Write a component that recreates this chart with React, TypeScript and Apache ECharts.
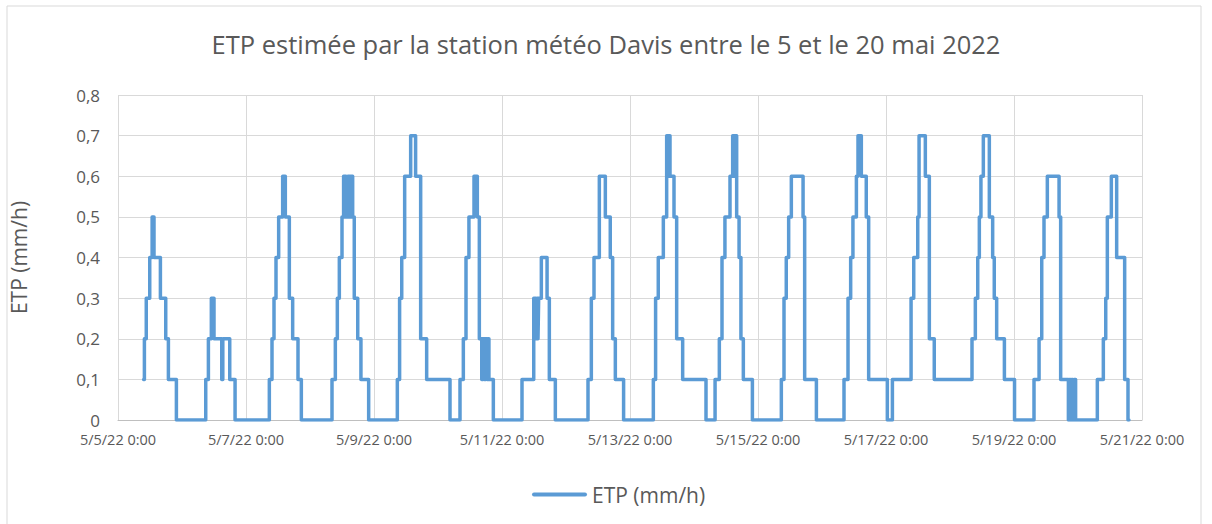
import React, { useEffect, useRef } from "react";
import * as echarts from "echarts";

// Change points per day: [hour of the day, ETP value in mm/h]; value holds until next point
const may05 = [[9.6,0.1],[9.9,0.2],[10.6,0.3],[11.9,0.4],[12.8,0.5],[13.5,0.4],[15.9,0.3],[17.9,0.2],[18.9,0.1],[21.9,0]];
const may06 = [[8.9,0.1],[9.9,0.2],[11.0,0.3],[12.0,0.2],[14.9,0.1],[15.3,0.2],[17.9,0.1],[19.9,0]];
const may07 = [[8.75,0.1],[9.75,0.2],[10.5,0.3],[11.25,0.4],[12.25,0.5],[13.75,0.6],[14.75,0.5],[16.25,0.3],[17.5,0.2],[19.5,0.1],[20.75,0]];
const may08 = [[8.25,0.1],[9.5,0.2],[10.25,0.3],[11,0.4],[12,0.5],[12.6,0.6],[13.5,0.5],[14.2,0.6],[14.8,0.5],[15.3,0.6],[16,0.5],[16.6,0.3],[17.9,0.2],[19.1,0.1],[22,0]];
const may09 = [[8.75,0.1],[9.6,0.3],[10.4,0.4],[11.5,0.6],[13.75,0.7],[15.6,0.6],[17.5,0.2],[19.75,0.1]];
const may10 = [[4.5,0],[8.25,0.1],[9.5,0.2],[10.5,0.4],[11.6,0.5],[13.5,0.6],[14.75,0.5],[15.5,0.2],[16.4,0.1],[16.9,0.2],[17.4,0.1],[17.9,0.2],[18.4,0.1],[18.7,0.2],[19.1,0.1],[20.75,0]];
const may11 = [[7.5,0.1],[11.9,0.3],[12.2,0.2],[12.5,0.3],[12.8,0.2],[13.2,0.3],[13.5,0.2],[13.75,0.3],[14.75,0.4],[16.9,0.3],[17.75,0.1],[20,0]];
const may12 = [[8.25,0.1],[9.5,0.3],[10.5,0.4],[12.5,0.6],[14.75,0.5],[16.6,0.4],[17.5,0.2],[18.5,0.1],[21.6,0]];
const may13 = [[8.75,0.1],[9.6,0.3],[10.6,0.4],[12.5,0.5],[13.75,0.7],[14.3,0.6],[14.5,0.7],[15,0.6],[16.5,0.5],[17.5,0.2],[19.75,0.1]];
const may14 = [[4.5,0],[7.9,0.1],[9.5,0.2],[10.5,0.4],[11.6,0.5],[13.5,0.6],[14.5,0.7],[15.1,0.6],[15.4,0.7],[16,0.5],[16.9,0.4],[17.6,0.2],[18.5,0.1],[21.9,0]];
const may15 = [[8.75,0.1],[9.75,0.3],[10.6,0.4],[11.5,0.5],[12.5,0.6],[16.9,0.5],[17.5,0.1],[21.9,0]];
const may16 = [[8.25,0.1],[9.75,0.3],[10.75,0.4],[11.6,0.5],[12.9,0.6],[13.5,0.7],[14.75,0.6],[16.6,0.5],[17.5,0.1]];
const may17 = [[0.5,0],[2.4,0.1],[9.4,0.3],[10.4,0.4],[11.9,0.5],[12.4,0.7],[14.75,0.6],[16.25,0.2],[18.1,0.1]];
const may18 = [[8.25,0.2],[9.5,0.3],[10.4,0.4],[11,0.5],[11.6,0.6],[12.5,0.7],[14.75,0.5],[16,0.4],[16.6,0.3],[17.5,0.2],[20.4,0.1]];
const may19 = [[0.2,0],[7.5,0.1],[9.4,0.2],[10.4,0.4],[11.25,0.5],[12.5,0.6],[16.9,0.5],[17.5,0.1],[20.4,0],[20.8,0.1],[21.2,0],[21.6,0.1],[22.0,0],[22.5,0.1],[23.1,0]];
const may20 = [[7.25,0.1],[9.5,0.2],[10.4,0.3],[11,0.5],[12.5,0.6],[14.5,0.4],[17.5,0.1],[18.75,0],[19.1,0]];

const days = [may05, may06, may07, may08, may09, may10, may11, may12, may13, may14, may15, may16, may17, may18, may19, may20];

const title = "ETP estimée par la station météo Davis entre le 5 et le 20 mai 2022";
const seriesName = "ETP (mm/h)";
const xMin = 0;
const xMax = 384; // hours from 5/5/22 0:00 to 5/21/22 0:00
const xStep = 48;

const FONT = "'Open Sans', sans-serif";
const TEXT = "#595959";
const GRID = "#d9d9d9";

export default function App() {
  const ref = useRef<HTMLDivElement>(null);
  useEffect(() => {
    if (!ref.current) return;
    const chart = echarts.init(ref.current, null, { renderer: "svg" });
    const data = days.flatMap((d, i) => d.map(([h, v]) => [i * 24 + h, v]));
    chart.setOption({
      animation: false,
      backgroundColor: "#ffffff",
      textStyle: { fontFamily: FONT },
      title: {
        text: title,
        left: "center",
        top: 26,
        textStyle: { fontFamily: FONT, fontSize: 25.5, fontWeight: "normal", color: TEXT },
      },
      graphic: [
        {
          type: "rect",
          shape: { x: 7, y: 6, width: 1194, height: 530 },
          style: { fill: "none", stroke: GRID, lineWidth: 1 },
          silent: true,
        },
      ],
      legend: {
        left: 527,
        top: 479,
        itemWidth: 55,
        itemHeight: 14,
        itemGap: 10,
        textStyle: { fontFamily: FONT, fontSize: 21, color: TEXT },
        data: [{ name: seriesName, icon: "path://M2,5.5L53,5.5A2,2 0 0 1 53,9.5L2,9.5A2,2 0 0 1 2,5.5Z" }],
      },
      grid: { left: 118, right: 70, top: 95, bottom: 104 },
      xAxis: {
        type: "value",
        min: xMin,
        max: xMax,
        interval: xStep,
        axisLine: { show: true, onZero: false, lineStyle: { color: "#bfbfbf", width: 1 } },
        axisTick: { show: false },
        splitLine: { show: true, lineStyle: { color: GRID, width: 1 } },
        axisLabel: {
          fontFamily: FONT,
          fontSize: 14.5,
          lineHeight: 15,
          color: TEXT,
          margin: 12,
          formatter: (h: number) => `5/${5 + Math.round(h / 24)}/22 0:00`,
        },
      },
      yAxis: {
        type: "value",
        min: 0,
        max: 0.8,
        interval: 0.1,
        name: seriesName,
        nameLocation: "middle",
        nameGap: 89,
        nameRotate: 90,
        nameTextStyle: { fontFamily: FONT, fontSize: 21, color: TEXT },
        axisLine: { show: false },
        axisTick: { show: false },
        splitLine: { show: true, lineStyle: { color: GRID, width: 1 } },
        axisLabel: {
          fontFamily: FONT,
          fontSize: 17,
          lineHeight: 16,
          color: TEXT,
          margin: 18,
          formatter: (v: number) => (v === 0 ? "0" : v.toFixed(1).replace(".", ",")),
        },
      },
      series: [
        {
          name: seriesName,
          type: "line",
          step: "end",
          data,
          showSymbol: false,
          symbol: "none",
          color: "#5b9bd5",
          lineStyle: { color: "#5b9bd5", width: 3.5, join: "round", cap: "round" },
        },
      ],
    });
    return () => chart.dispose();
  }, []);
  return <div ref={ref} style={{ position: "absolute", left: 0, top: 0, width: 1212, height: 524 }} />;
}
